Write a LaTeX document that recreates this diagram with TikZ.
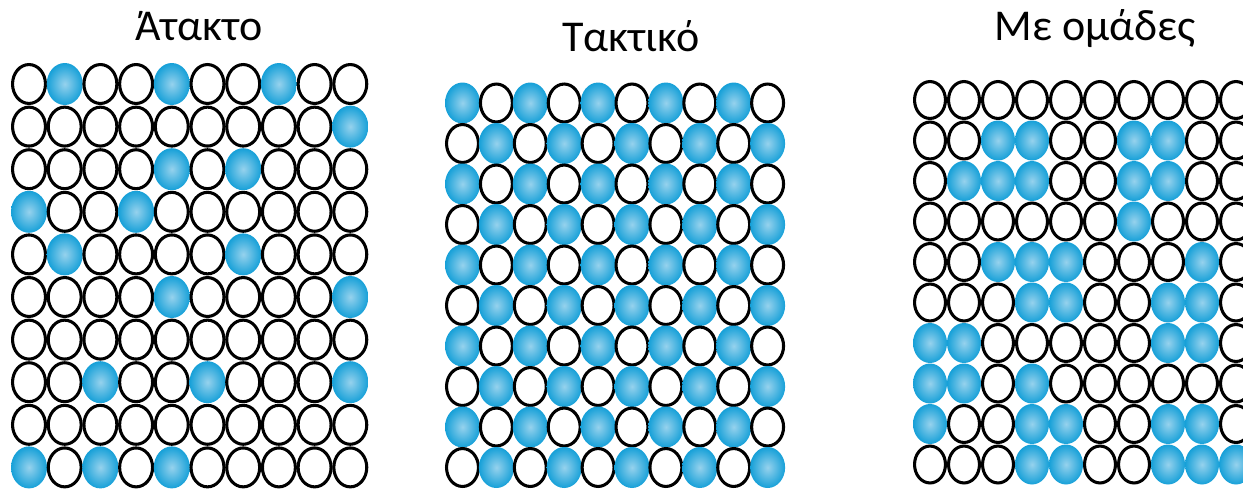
\documentclass[tikz,border=0pt]{standalone}
\usepackage{fontspec}
\setmainfont{Carlito}
\usepackage{tikz}
\usetikzlibrary{shapes.geometric,positioning}
\definecolor{dotblue}{RGB}{22,160,216}
\definecolor{dotlight}{RGB}{150,210,237}

\begin{document}
\begin{tikzpicture}[
  x=0.75pt, y=-0.75pt,
  title/.style={font=\fontsize{33}{39}\selectfont, anchor=base, inner sep=0pt},
  dot0/.style={ellipse, draw=black, line width=2.3pt, fill=white, inner sep=0pt,
               minimum width=\dw-2.3pt, minimum height=\dh-2.3pt},
  dot1/.style={ellipse, inner sep=0pt, inner color=dotlight, outer color=dotblue,
               minimum width=\dw, minimum height=\dh},
]
\useasboundingbox (0,0) rectangle (1243,490);
\clip (0,0) rectangle (1243,490);

%% ── Titles ────────────────────────────────────────────────────────────────
\node[title] (ataTitle) at (199,40) {Άτακτο};
\node[title] (takTitle) at (631,51) {Τακτικό};
\node[title] (omaTitle) at (1095,40) {Με ομάδες};

%% ── Άτακτο ────────────────────────────────────────────────────────────────
\def\dw{27pt}\def\dh{31.5pt}
\foreach \row [count=\r] in {
  {0,1,0,0,1,0,0,1,0,0},
  {0,0,0,0,0,0,0,0,0,1},
  {0,0,0,0,1,0,1,0,0,0},
  {1,0,0,1,0,0,0,0,0,0},
  {0,1,0,0,0,0,1,0,0,0},
  {0,0,0,0,1,0,0,0,0,1},
  {0,0,0,0,0,0,0,0,0,0},
  {0,0,1,0,0,1,0,0,0,1},
  {0,0,0,0,0,0,0,0,0,0},
  {1,0,1,0,1,0,0,0,0,0}} {
  \foreach \v [count=\c] in \row
    \node[dot\v] (ata-\r-\c) at ({29+35.7*(\c-1)},{84+42.6*(\r-1)}) {};
}

%% ── Τακτικό (checkerboard) ────────────────────────────────────────────────
\def\dw{26.25pt}\def\dh{30.75pt}
\foreach \r in {1,...,10} {
  \foreach \c in {1,...,10} {
    \pgfmathtruncatemacro\v{mod(\r+\c+1,2)}
    \node[dot\v] (tak-\r-\c) at ({462.5+33.9*(\c-1)},{103+40.5*(\r-1)}) {};
  }
}

%% ── Με ομάδες ─────────────────────────────────────────────────────────────
\def\dw{25.5pt}\def\dh{30pt}
\foreach \row [count=\r] in {
  {0,0,0,0,0,0,0,0,0,0},
  {0,0,1,1,0,0,1,1,0,0},
  {0,1,1,1,0,0,1,1,0,0},
  {0,0,0,0,0,0,1,0,0,0},
  {0,0,1,1,1,0,0,0,1,0},
  {0,0,0,1,1,0,0,1,1,0},
  {1,1,0,0,0,0,0,1,1,0},
  {1,1,0,1,0,0,0,0,0,0},
  {1,0,0,1,1,0,0,1,1,0},
  {0,0,0,1,1,0,0,1,1,1}} {
  \foreach \v [count=\c] in \row
    \node[dot\v] (oma-\r-\c) at ({930+34*(\c-1)},{100+40.5*(\r-1)}) {};
}

\end{tikzpicture}
\end{document}
